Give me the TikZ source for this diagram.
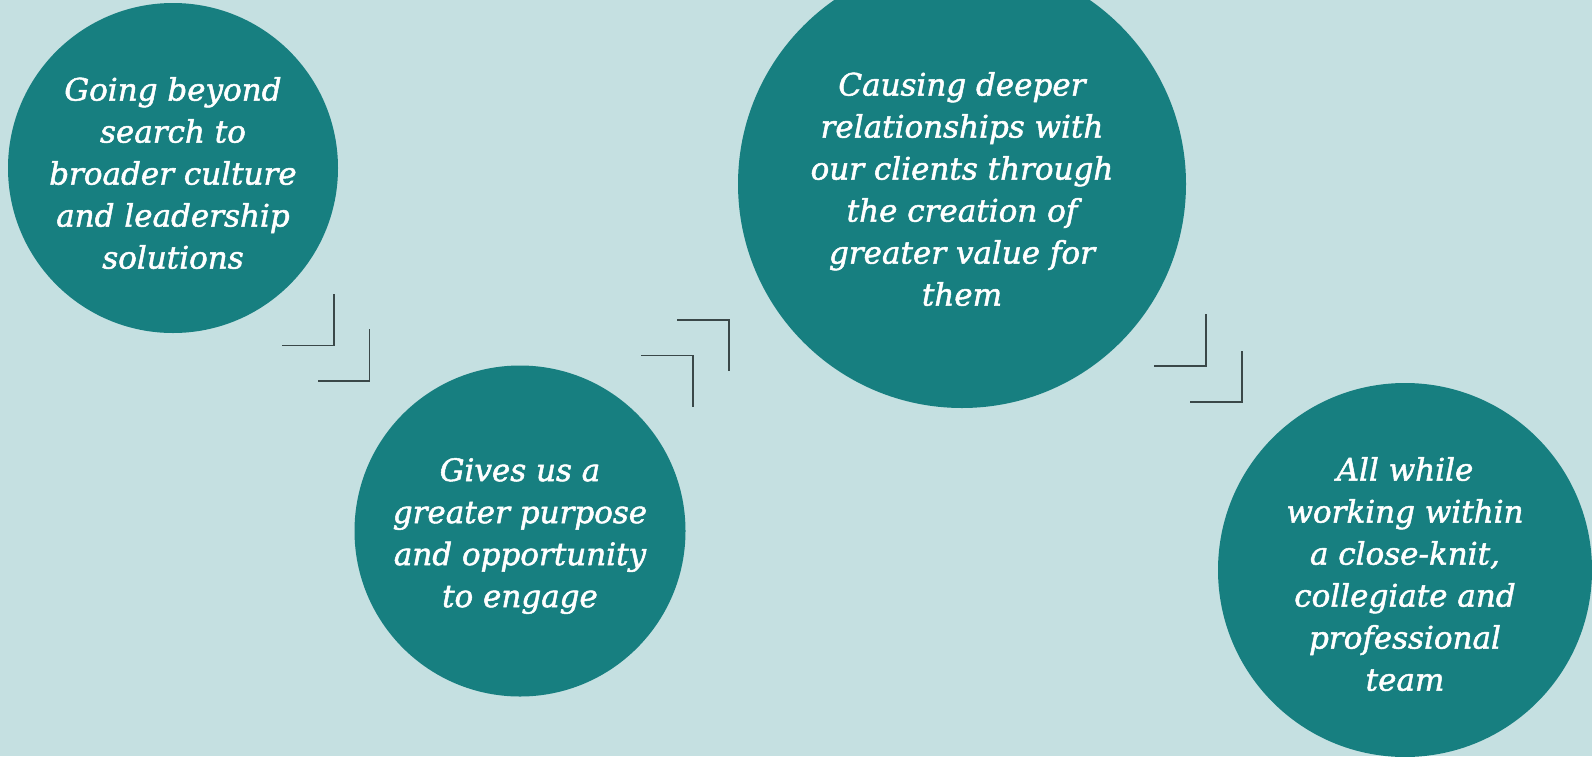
\documentclass[tikz,border=0pt]{standalone}
\usepackage{fontspec}
\setmainfont{DejaVu Serif}[ItalicFeatures={FakeBold=1.6}]
\definecolor{bg}{HTML}{C5E0E1}
\definecolor{tealc}{HTML}{177F80}
\definecolor{linegray}{HTML}{3A4848}
\begin{document}
\begin{tikzpicture}[x=1pt,y=-1pt,
  bubble/.style={circle, fill=tealc, inner sep=0pt, minimum size=#1},
  btext/.style={text=white, align=center, inner sep=0pt,
    font=\itshape\fontsize{31}{42}\selectfont},
  bracket/.style={draw=linegray, line width=1.6pt, line cap=butt, line join=miter}]
\clip (0,0) rectangle (1592,756);
\fill[bg] (0,0) rectangle (1592,756);
\node[bubble=330pt] (c1) at (173,168) {};
\node[bubble=331pt] (c2) at (520,531) {};
\node[bubble=448pt] (c3) at (962,184) {};
\node[bubble=374pt] (c4) at (1405,570) {};
\node[btext] (t1) at ([yshift=-5pt]c1.center) {Going beyond\\search to\\broader culture\\and leadership\\solutions};
\node[btext] (t2) at ([yshift=-5pt]c2.center) {Gives us a\\greater purpose\\and opportunity\\to engage};
\node[btext] (t3) at ([yshift=-5pt]c3.center) {Causing deeper\\relationships with\\our clients through\\the creation of\\greater value for\\them};
\node[btext] (t4) at ([yshift=-4pt]c4.center) {All while\\working within\\a close-knit,\\collegiate and\\professional\\team};
% brackets between c1 and c2
\draw[bracket] (282.3,345.3) -- (333.7,345.3) -- (333.7,294);
\draw[bracket] (318.3,380.7) -- (369.3,380.7) -- (369.3,329.3);
% brackets between c2 and c3
\draw[bracket] (677.3,319.7) -- (729,319.7) -- (729,371);
\draw[bracket] (641.3,355.3) -- (693,355.3) -- (693,407);
% brackets between c3 and c4
\draw[bracket] (1154.3,366) -- (1206,366) -- (1206,314.3);
\draw[bracket] (1190,401.7) -- (1241.7,401.7) -- (1241.7,350.7);
\end{tikzpicture}
\end{document}
